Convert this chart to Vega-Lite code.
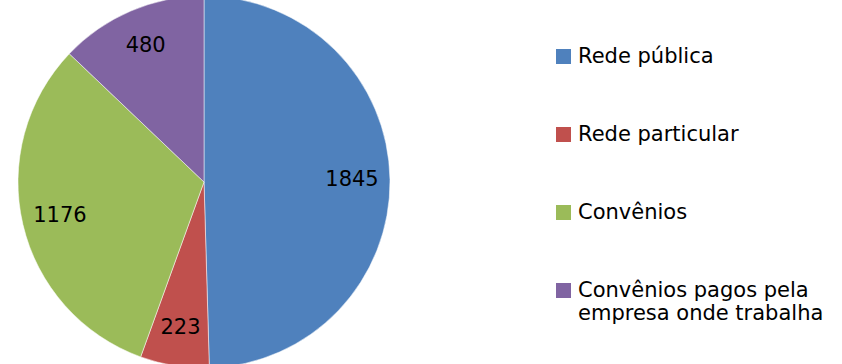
{
  "$schema": "https://vega.github.io/schema/vega-lite/v6.json",
  "width": 408,
  "height": 364,
  "autosize": {"type": "none"},
  "padding": {"left": 0, "top": 0, "right": 434, "bottom": 0},
  "background": "white",
  "data": {
    "values": [
      {"categoria": "Rede pública", "valor": 1845, "ordem": 1},
      {"categoria": "Rede particular", "valor": 223, "ordem": 2},
      {"categoria": "Convênios", "valor": 1176, "ordem": 3},
      {"categoria": "Convênios pagos pela empresa onde trabalha", "valor": 480, "ordem": 4}
    ]
  },
  "encoding": {
    "theta": {"field": "valor", "type": "quantitative", "stack": true},
    "order": {"field": "ordem", "type": "quantitative"}
  },
  "layer": [
    {
      "mark": {"type": "arc", "outerRadius": 186, "stroke": "white", "strokeWidth": 0.5},
      "encoding": {
        "color": {
          "field": "categoria",
          "type": "nominal",
          "scale": {
            "domain": ["Rede pública", "Rede particular", "Convênios", "Convênios pagos pela empresa onde trabalha"],
            "range": ["#4F81BD", "#C0504D", "#9BBB59", "#8064A2"]
          },
          "legend": {
            "title": null,
            "orient": "none",
            "legendX": 553,
            "legendY": 46,
            "padding": 0,
            "symbolType": "square",
            "symbolSize": 225,
            "symbolStrokeWidth": 0,
            "labelFont": "DejaVu Sans",
            "labelFontSize": 21,
            "labelColor": "#000000",
            "labelLimit": 400,
            "labelOffset": 4,
            "rowPadding": 56,
            "labelExpr": "datum.label == 'Convênios pagos pela empresa onde trabalha' ? ['Convênios pagos pela', 'empresa onde trabalha'] : datum.label",
            "encode": {
              "labels": {
                "update": {
                  "lineHeight": {"value": 29},
                  "dy": {"signal": "datum.value == 'Convênios pagos pela empresa onde trabalha' ? 14.5 : 0"}
                }
              }
            }
          }
        }
      }
    },
    {
      "mark": {"type": "text", "radius": 148, "font": "DejaVu Sans", "fontSize": 21, "color": "#000000"},
      "encoding": {
        "text": {"field": "valor", "type": "quantitative"}
      }
    }
  ],
  "config": {"view": {"stroke": null}, "text": {"lineHeight": 29}}
}
